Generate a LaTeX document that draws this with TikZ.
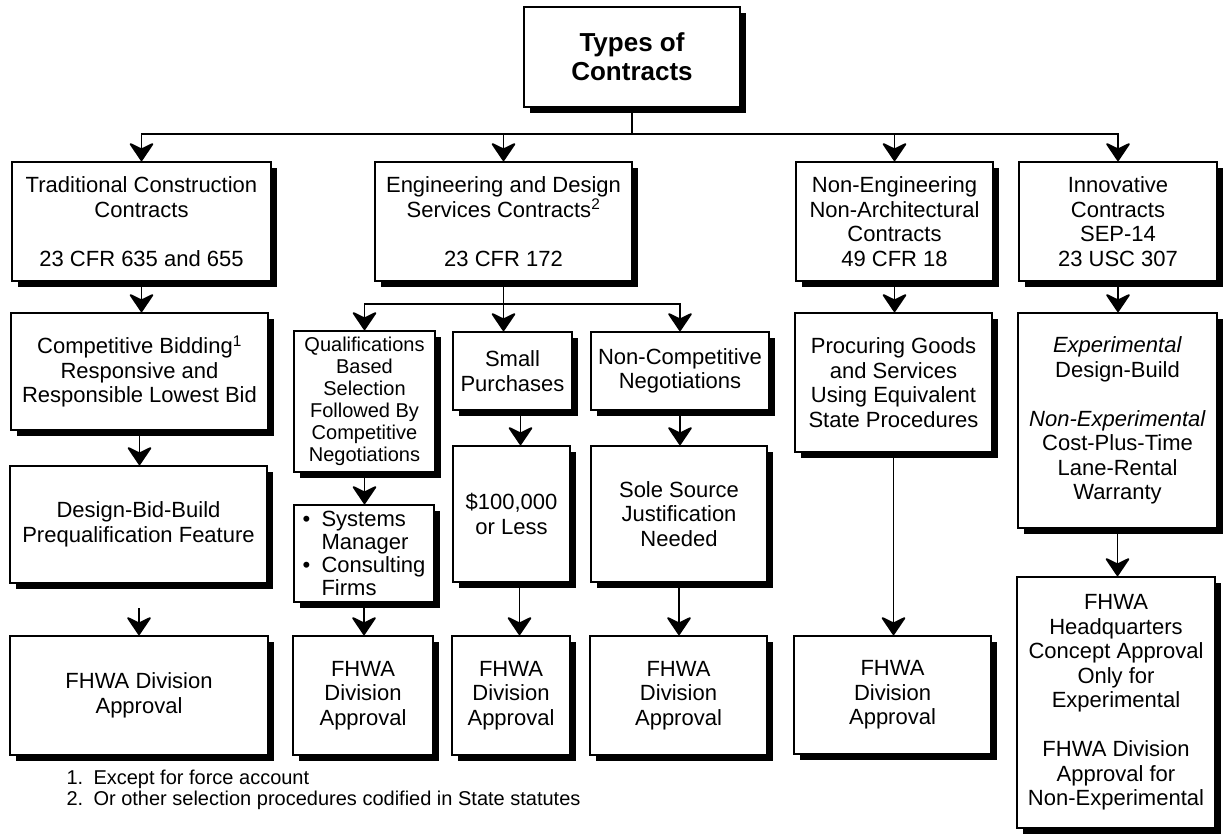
\documentclass[tikz,border=0pt]{standalone}
\usepackage{fontspec}
\setmainfont{Liberation Sans}
\usetikzlibrary{arrows.meta,shadows}

\begin{document}
\begin{tikzpicture}[
  x=1pt,y=-1pt,
  font=\fontsize{22}{24.5}\selectfont,
  box/.style={rectangle,draw,line width=1.8pt,fill=white,align=center,inner sep=0pt,
    drop shadow={shadow xshift=6pt,shadow yshift=-6pt,fill=black,opacity=1}},
  sz/.style 2 args={minimum width=#1pt,minimum height=#2pt},
  tight/.style={font=\fontsize{20}{22}\selectfont},
  arr/.style={line width=1.9pt,-{Stealth[length=20pt,width=27pt,inset=6.5pt,round]}},
  note/.style={font=\fontsize{20}{21}\selectfont,align=left,anchor=west}
]
\useasboundingbox (0,0) rectangle (1223,836);
% top
\node[box,sz={216}{100},font=\fontsize{26}{29}\selectfont\bfseries] (types) at (632,57) {Types of\\Contracts};
% first row
\node[box,sz={259}{119}] (trad)   at (141.5,221.5) {Traditional Construction\\Contracts\\[24.5pt]23 CFR 635 and 655};
\node[box,sz={257}{119}] (eng)    at (503.5,221.5) {Engineering and Design\\Services Contracts\textsuperscript{2}\\[24.5pt]23 CFR 172};
\node[box,sz={197}{119}] (noneng) at (894.5,221.5) {Non-Engineering\\Non-Architectural\\Contracts\\49 CFR 18};
\node[box,sz={198}{119}] (innov)  at (1118,221.5)  {Innovative\\Contracts\\SEP-14\\23 USC 307};
% traditional column
\node[box,sz={257}{117}] (comp)  at (139.5,371.5) {Competitive Bidding\textsuperscript{1}\\Responsive and\\Responsible Lowest Bid};
\node[box,sz={257}{117}] (dbb)   at (138.5,524.5) {Design-Bid-Build\\Prequalification Feature};
\node[box,sz={258}{119}] (fhwa1) at (139,695.5)   {FHWA Division\\Approval};
% engineering columns
\node[box,sz={141}{141},tight] (qual) at (364.5,401.5) {Qualifications\\Based\\Selection\\Followed By\\Competitive\\Negotiations};
\node[box,sz={140}{97},align=left,font=\fontsize{22}{23}\selectfont] (sysm) at (364,553.5)
  {\makebox[19pt][l]{\textbullet}Systems\\\hspace*{19pt}Manager\\\makebox[19pt][l]{\textbullet}Consulting\\\hspace*{19pt}Firms};
\node[box,sz={140}{119}] (fhwa2) at (363,695.5) {FHWA\\Division\\Approval};
\node[box,sz={119}{78}]  (small) at (512.5,371) {Small\\Purchases};
\node[box,sz={117}{136}] (limit) at (511.5,514) {\$100,000\\or Less};
\node[box,sz={118}{119}] (fhwa3) at (511,695.5) {FHWA\\Division\\Approval};
\node[box,sz={178}{78}]  (noncomp) at (680,371) {Non-Competitive\\Negotiations};
\node[box,sz={176}{136}] (sole)    at (679,514) {Sole Source\\Justification\\Needed};
\node[box,sz={177}{119}] (fhwa4)   at (678.5,695.5) {FHWA\\Division\\Approval};
% non-engineering column
\node[box,sz={197}{139}] (proc)  at (893.5,382.5) {Procuring Goods\\and Services\\Using Equivalent\\State Procedures};
\node[box,sz={197}{118}] (fhwa5) at (892.5,695)   {FHWA\\Division\\Approval};
% innovative column
\node[box,sz={199}{215}] (expt) at (1117.5,420.5) {\textit{Experimental}\\Design-Build\\[24.5pt]\textit{Non-Experimental}\\Cost-Plus-Time\\Lane-Rental\\Warranty};
\node[box,sz={198}{251}] (hq)   at (1116,702.5)   {FHWA\\Headquarters\\Concept Approval\\Only for\\Experimental\\[24.5pt]FHWA Division\\Approval for\\Non-Experimental};
% footnotes
\node[note] (notes) at (63,790) {\makebox[27pt][l]{1.}Except for force account\\\makebox[27pt][l]{2.}Or other selection procedures codified in State statutes};
% connectors
\coordinate (bus) at (632,134);
\coordinate (sub) at (504,304);
\coordinate (gap) at (139,608);
\foreach \n in {trad,eng,noneng,innov} \draw[arr] (types.south) |- (\n.north |- bus) -- (\n.north);
\draw[arr] (trad.south) -- (trad.south |- comp.north);
\draw[arr] (comp.south) -- (comp.south |- dbb.north);
\draw[arr] (gap) -- (gap |- fhwa1.north);
\draw[arr] (eng.south) -- (eng.south |- small.north);
\draw[arr] (eng.south |- sub) -| (qual.north);
\draw[arr] (eng.south |- sub) -| (noncomp.north);
\draw[arr] (qual.south) -- (qual.south |- sysm.north);
\draw[arr] (sysm.south) -- (sysm.south |- fhwa2.north);
\draw[arr] ([xshift=8pt]small.south) -- ([xshift=8pt]small.south |- limit.north);
\draw[arr] ([xshift=8pt]limit.south) -- ([xshift=8pt]limit.south |- fhwa3.north);
\draw[arr] (noncomp.south) -- (noncomp.south |- sole.north);
\draw[arr] (sole.south) -- (sole.south |- fhwa4.north);
\draw[arr] (noneng.south) -- (noneng.south |- proc.north);
\draw[arr] (proc.south) -- (proc.south |- fhwa5.north);
\draw[arr] (innov.south) -- (innov.south |- expt.north);
\draw[arr] (expt.south) -- (expt.south |- hq.north);
\end{tikzpicture}
\end{document}
